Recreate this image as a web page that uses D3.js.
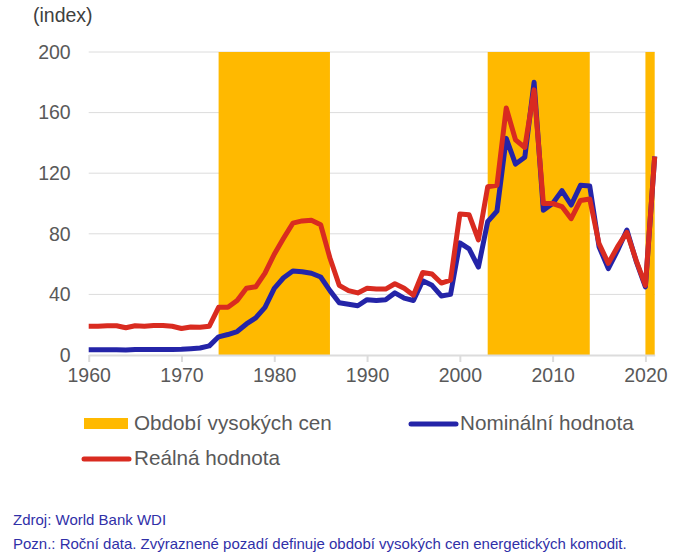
<!DOCTYPE html>
<html>
<head>
<meta charset="utf-8">
<script src="https://cdn.jsdelivr.net/npm/d3@7"></script>
<style>
  body { margin: 0; background: #fff; }
  svg { display: block; font-family: "Liberation Sans", Arial, sans-serif; }
</style>
</head>
<body>
<svg id="chart" width="698" height="559"></svg>
<script>
// ------------------
// Data
// ------------------
const years = d3.range(1960, 2022);

const nominal = [
  3.5, 3.5, 3.5, 3.5, 3.3, 3.6, 3.6, 3.7, 3.7, 3.7, 3.8, 4.2, 4.6, 6,
  12, 13.5, 15.5, 20.5, 24.5, 31.5, 44, 51, 55.5, 55, 54, 51.5, 42.5, 34.5, 33.5, 32.5,
  36.5, 36, 36.5, 41, 37.5, 36, 49, 46, 39, 40,
  74, 70, 58, 88, 95, 143, 126, 130.5, 180, 95.5,
  100, 108.5, 99, 112, 111.5, 71.5, 57, 69, 82.5, 62, 45, 131
];

const real = [
  19, 19, 19.3, 19.3, 18, 19.3, 19, 19.5, 19.5, 19, 17.5, 18.5, 18.3, 19,
  31.5, 31.5, 36, 44, 45, 54, 66.5, 77, 87, 88.5, 89, 86, 64, 46, 42.5, 41,
  44, 43.5, 43.5, 47, 44, 39.5, 54.5, 53.5, 47.5, 49.5,
  93, 92.5, 76, 111, 112, 163, 142, 137, 175, 100,
  100, 98, 90, 102, 103, 73.5, 60.5, 71.5, 81, 62.5, 46, 131
];

// high-price periods [start, end]
const highPeriods = [[1974, 1986], [2003, 2014], [2020, 2021]];

const yTicks = [0, 40, 80, 120, 160, 200];
const xTicks = [1960, 1970, 1980, 1990, 2000, 2010, 2020];

const labels = {
  unit: "(index)",
  band: "Období vysokých cen",
  nominal: "Nominální hodnota",
  real: "Reálná hodnota",
  source: "Zdroj: World Bank WDI",
  note: "Pozn.: Roční data. Zvýraznené pozadí definuje období vysokých cen energetických komodit."
};

const colors = { band: "#ffb900", nominal: "#2424a8", real: "#d92b20", grid: "#dcdcdc", text: "#595959", foot: "#3030a8" };

// ------------------
// Chart
// ------------------
const svg = d3.select("#chart");

const x = d3.scaleLinear().domain([1960, 2021]).range([88.7, 654.7]);
const y = d3.scaleLinear().domain([0, 200]).range([355, 52]);

// gridlines
svg.append("g")
  .selectAll("line")
  .data(yTicks.filter(t => t > 0))
  .join("line")
  .attr("x1", x(1960)).attr("x2", x(2021))
  .attr("y1", d => y(d)).attr("y2", d => y(d))
  .attr("stroke", colors.grid).attr("stroke-width", 1);

// bands
svg.append("g")
  .selectAll("rect")
  .data(highPeriods)
  .join("rect")
  .attr("x", d => x(d[0]))
  .attr("width", d => x(d[1]) - x(d[0]))
  .attr("y", y(200))
  .attr("height", y(0) - y(200))
  .attr("fill", colors.band);

// y axis labels
const yAxis = svg.append("g")
  .attr("transform", `translate(${x(1960)},0)`)
  .call(d3.axisLeft(y).tickValues(yTicks).tickSize(0).tickPadding(18));
yAxis.select(".domain").remove();
yAxis.selectAll("text").attr("fill", colors.text).style("font-size", "19.5px");

// x axis
const xAxis = svg.append("g")
  .attr("transform", `translate(0,${y(0)})`)
  .call(d3.axisBottom(x).tickValues(xTicks).tickFormat(d3.format("d")).tickSize(7).tickSizeOuter(0).tickPadding(6));
xAxis.select(".domain").attr("stroke", colors.grid).attr("stroke-width", 2);
xAxis.selectAll(".tick line").attr("stroke", colors.grid).attr("stroke-width", 2);
xAxis.selectAll("text").attr("fill", colors.text).style("font-size", "19.5px");

// lines
const line = vals => d3.line()
  .x((d, i) => x(years[i]))
  .y(d => y(d))(vals);

svg.append("path")
  .attr("d", line(nominal))
  .attr("fill", "none")
  .attr("stroke", colors.nominal)
  .attr("stroke-width", 5)
  .attr("stroke-linejoin", "round");

svg.append("path")
  .attr("d", line(real))
  .attr("fill", "none")
  .attr("stroke", colors.real)
  .attr("stroke-width", 5)
  .attr("stroke-linejoin", "round");

// unit label
svg.append("text")
  .attr("x", 33).attr("y", 22)
  .attr("fill", "#404040")
  .style("font-size", "19.5px")
  .text(labels.unit);

// ------------------
// Legend
// ------------------
const legend = svg.append("g").style("font-size", "20.7px").attr("fill", colors.text);

legend.append("rect")
  .attr("x", 84).attr("y", 418).attr("width", 44).attr("height", 11)
  .attr("fill", colors.band);
legend.append("text").attr("x", 134).attr("y", 430).text(labels.band);

legend.append("line")
  .attr("x1", 411).attr("x2", 456).attr("y1", 424).attr("y2", 424)
  .attr("stroke", colors.nominal).attr("stroke-width", 5).attr("stroke-linecap", "round");
legend.append("text").attr("x", 460).attr("y", 430).text(labels.nominal);

legend.append("line")
  .attr("x1", 84).attr("x2", 129).attr("y1", 459).attr("y2", 459)
  .attr("stroke", colors.real).attr("stroke-width", 5).attr("stroke-linecap", "round");
legend.append("text").attr("x", 134).attr("y", 465).text(labels.real);

// ------------------
// Footer
// ------------------
const foot = svg.append("g").attr("fill", colors.foot).style("font-size", "15px");
foot.append("text").attr("x", 13).attr("y", 525).text(labels.source);
foot.append("text").attr("x", 13).attr("y", 549).text(labels.note);
</script>
</body>
</html>
